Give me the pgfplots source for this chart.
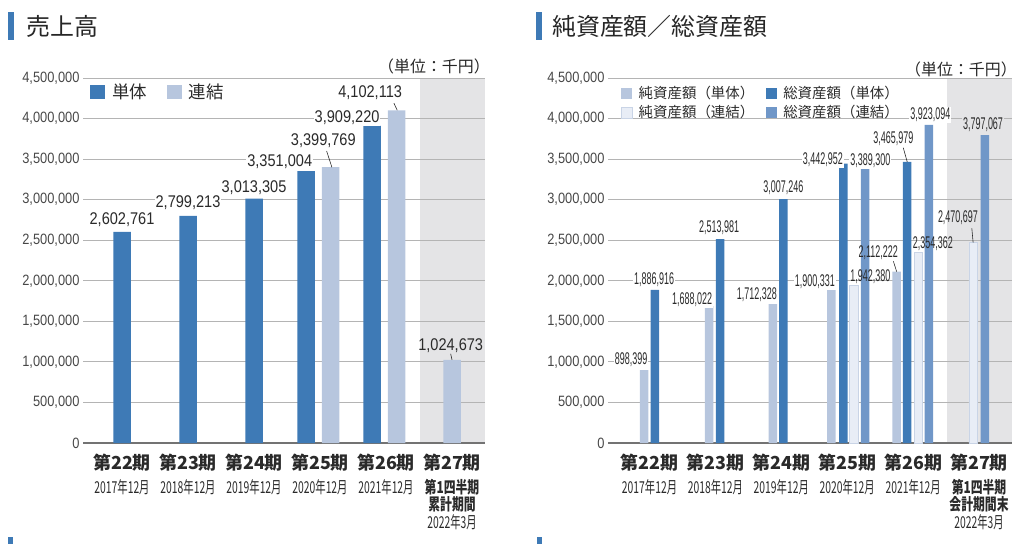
\documentclass[border=0pt]{standalone}
\usepackage{pgfplots}
\pgfplotsset{compat=1.18}
\usepackage{fontspec}
\setmainfont{Noto Sans CJK JP}
\newfontfamily\numfont[FakeStretch=0.86]{Liberation Sans}
\newfontfamily\numnarrow[FakeStretch=0.53]{Liberation Sans}
\newfontfamily\condfont[FakeStretch=0.63]{Noto Sans CJK JP}
\newfontfamily\condB[FakeStretch=0.72]{Noto Sans CJK JP}
\definecolor{dblue}{HTML}{3E7AB6}
\definecolor{lblue}{HTML}{B7C6DE}
\definecolor{vlblue}{HTML}{E8EDF6}
\definecolor{vlborder}{HTML}{C9D4E6}
\definecolor{mblue}{HTML}{7097C8}
\definecolor{shadegray}{HTML}{E4E4E6}
\definecolor{gridc}{HTML}{B4B4B4}
\definecolor{txt}{HTML}{2A2A2A}
\newcommand\xl[2]{{\fontsize{18}{20}\selectfont\bfseries #1}\\[7bp]{\condfont #2}}
\newcommand\xlm[4]{{\fontsize{18}{20}\selectfont\bfseries #1}\\[7bp]{\condB\bfseries #2}\\{\condB\bfseries #3}\\{\condfont #4}}
\tikzset{
  lblL/.style={font=\fontsize{17}{17}\selectfont\numfont, text=txt, fill=white, inner sep=1bp},
  lblR/.style={font=\fontsize{17}{17}\selectfont\numnarrow, text=txt, fill=white, inner sep=1bp},
}
\pgfplotsset{
  common/.style={
    scale only axis, clip=false,
    height=365bp,
    ymin=0, ymax=4500000,
    ytick={0,500000,1000000,1500000,2000000,2500000,3000000,3500000,4000000,4500000},
    scaled y ticks=false,
    yticklabel style={/pgf/number format/fixed, /pgf/number format/1000 sep={,}, /pgf/number format/assume math mode=true, font=\fontsize{15}{15}\selectfont\numfont, text=black!72},
    ymajorgrids, grid style={draw=gridc, line width=0.8bp},
    major tick length=0pt,
    axis line style={draw=none},
    extra y ticks={0}, extra y tick labels={},
    extra y tick style={grid style={draw=black!55, line width=1.5bp}},
    xtick={0,1,2,3,4,5},
    xticklabel style={align=center, anchor=north, font=\fontsize{16.5}{17.5}\selectfont, text=txt, yshift=-7bp},
    legend cell align=left,
  },
  barL/.style={ybar, bar width=17.5bp, bar shift=0pt, draw=none,
    legend image code/.code={\fill[##1, draw=none] (0bp,-7bp) rectangle (15bp,7bp); \path (22bp,0bp);}},
  barR/.style={ybar, bar width=8.5bp, bar shift=0pt, draw=none,
    legend image code/.code={\fill[##1, draw=none] (0bp,-5.5bp) rectangle (11bp,5.5bp); \path (17bp,0bp);}},
}
\begin{document}
\begin{tikzpicture}
\path[use as bounding box] (0bp,0bp) rectangle (1024bp,544bp);
% titles
\fill[dblue] (8bp,504bp) rectangle (14bp,532bp);
\node[anchor=west, text=black!85, font=\fontsize{24}{24}\selectfont, inner sep=0] at (26bp,518bp) {売上高};
\fill[dblue] (536bp,504bp) rectangle (542bp,532bp);
\node[anchor=west, text=black!85, font=\fontsize{24}{24}\selectfont, inner sep=0] at (552bp,518bp) {純資産額／総資産額};
\node[anchor=east, text=black!85, font=\fontsize{16}{16}\selectfont, inner sep=0] at (490bp,478bp) {（単位：千円）};
\node[anchor=east, text=black!85, font=\fontsize{16}{16}\selectfont, inner sep=0] at (1017bp,475bp) {（単位：千円）};
\fill[dblue] (8bp,0bp) rectangle (13bp,7bp);
\fill[dblue] (537bp,0bp) rectangle (542bp,7bp);
% shaded current-period background
\fill[shadegray] (420bp,101bp) rectangle (485bp,466bp);
\fill[shadegray] (947bp,101bp) rectangle (1012bp,466bp);

% ---------- left axis ----------
\begin{axis}[common, at={(83bp,101bp)}, anchor=south west, width=402bp,
  xmin=-0.591, xmax=5.5,
  xticklabels={{\xl{第22期}{2017年12月}},{\xl{第23期}{2018年12月}},{\xl{第24期}{2019年12月}},{\xl{第25期}{2020年12月}},{\xl{第26期}{2021年12月}},{\xlm{第27期}{第1四半期}{累計期間}{2022年3月}}},
  legend columns=2,
  legend style={at={(axis description cs:0.017,0.984)}, anchor=north west, draw=none, fill=none,
    font=\fontsize{17.5}{18}\selectfont, text=txt, inner sep=0pt,
    nodes={inner sep=0pt},
    /tikz/every even column/.append style={column sep=20bp}},
]
\addplot[barL, fill=dblue] coordinates {(0,2602761) (1,2799213) (2,3013305) (2.79,3351004) (3.79,3909220)};
\addlegendentry{単体}
\addplot[barL, fill=lblue] coordinates {(3.16,3399769) (4.16,4102113) (5.0,1024673)};
\addlegendentry{連結}
\node[lblL] at (axis cs:0,2749000) {2,602,761};
\node[lblL] at (axis cs:1.0,2959000) {2,799,213};
\node[lblL] at (axis cs:2.0,3144000) {3,013,305};
\node[lblL] at (axis cs:2.39,3464000) {3,351,004};
\node[lblL] at (axis cs:3.05,3723000) {3,399,769};
\node[lblL] at (axis cs:3.41,4007000) {3,909,220};
\node[lblL] at (axis cs:3.76,4315000) {4,102,113};
\node[lblL, fill=none] at (axis cs:4.98,1196000) {1,024,673};
\draw[txt, line width=0.6bp] (axis cs:3.18,3399769) -- (axis cs:3.10,3600000);
\draw[txt, line width=0.6bp] (axis cs:4.17,4102113) -- (axis cs:4.12,4190000);
\draw[txt, line width=0.6bp] (axis cs:5.0,1024673) -- (axis cs:4.98,1100000);
\end{axis}

% ---------- right axis ----------
\begin{axis}[common, at={(608bp,101bp)}, anchor=south west, width=404bp,
  xmin=-0.63, xmax=5.5,
  xticklabels={{\xl{第22期}{2017年12月}},{\xl{第23期}{2018年12月}},{\xl{第24期}{2019年12月}},{\xl{第25期}{2020年12月}},{\xl{第26期}{2021年12月}},{\xlm{第27期}{第1四半期}{会計期間末}{2022年3月}}},
  legend columns=2,
  legend style={at={(axis description cs:0.032,0.977)}, anchor=north west, draw=none, fill=none,
    font=\fontsize{14.5}{14.5}\selectfont, text=txt, inner sep=0pt, row sep=5bp,
    nodes={inner sep=0pt},
    /tikz/every even column/.append style={column sep=12bp}},
]
\addplot[barR, fill=lblue] coordinates {(-0.083,898399) (0.903,1688022) (1.87,1712328) (2.76,1900331) (3.75,2112222)};
\addlegendentry{純資産額（単体）}
\addplot[barR, fill=dblue] coordinates {(0.083,1886916) (1.07,2513981) (2.03,3007246) (2.94,3442952) (3.91,3465979)};
\addlegendentry{総資産額（単体）}
\addplot[barR, fill=vlblue, draw=vlborder, line width=0.6bp,
  legend image code/.code={\filldraw[fill=vlblue, draw=vlborder, line width=0.6bp] (0bp,-5.5bp) rectangle (11bp,5.5bp); \path (17bp,0bp);}]
  coordinates {(3.10,1942380) (4.08,2354362) (4.91,2470697)};
\addlegendentry{純資産額（連結）}
\addplot[barR, fill=mblue] coordinates {(3.27,3389300) (4.24,3923094) (5.09,3797067)};
\addlegendentry{総資産額（連結）}
\node[lblR] at (axis cs:-0.28,1023000) {898,399};
\node[lblR] at (axis cs:0.07,2010000) {1,886,916};
\node[lblR] at (axis cs:0.645,1763000) {1,688,022};
\node[lblR] at (axis cs:1.055,2651000) {2,513,981};
\node[lblR] at (axis cs:1.63,1825000) {1,712,328};
\node[lblR] at (axis cs:2.03,3144000) {3,007,246};
\node[lblR] at (axis cs:2.51,1985000) {1,900,331};
\node[lblR] at (axis cs:2.63,3489000) {3,442,952};
\node[lblR, fill=none] at (axis cs:3.35,2047000) {1,942,380};
\node[lblR] at (axis cs:3.35,3477000) {3,389,300};
\node[lblR, fill=none] at (axis cs:3.47,2342000) {2,112,222};
\node[lblR] at (axis cs:3.70,3748000) {3,465,979};
\node[lblR, fill=none] at (axis cs:4.30,2453000) {2,354,362};
\node[lblR] at (axis cs:4.26,4044000) {3,923,094};
\node[lblR, fill=none] at (axis cs:4.68,2774000) {2,470,697};
\node[lblR, fill=shadegray] at (axis cs:5.06,3921000) {3,797,067};
\draw[txt, line width=0.6bp] (axis cs:3.75,2112222) -- (axis cs:3.70,2240000);
\draw[txt, line width=0.6bp] (axis cs:3.91,3465979) -- (axis cs:3.85,3640000);
\draw[txt, line width=0.6bp] (axis cs:4.91,2470697) -- (axis cs:4.89,2650000);
\end{axis}
\end{tikzpicture}
\end{document}
